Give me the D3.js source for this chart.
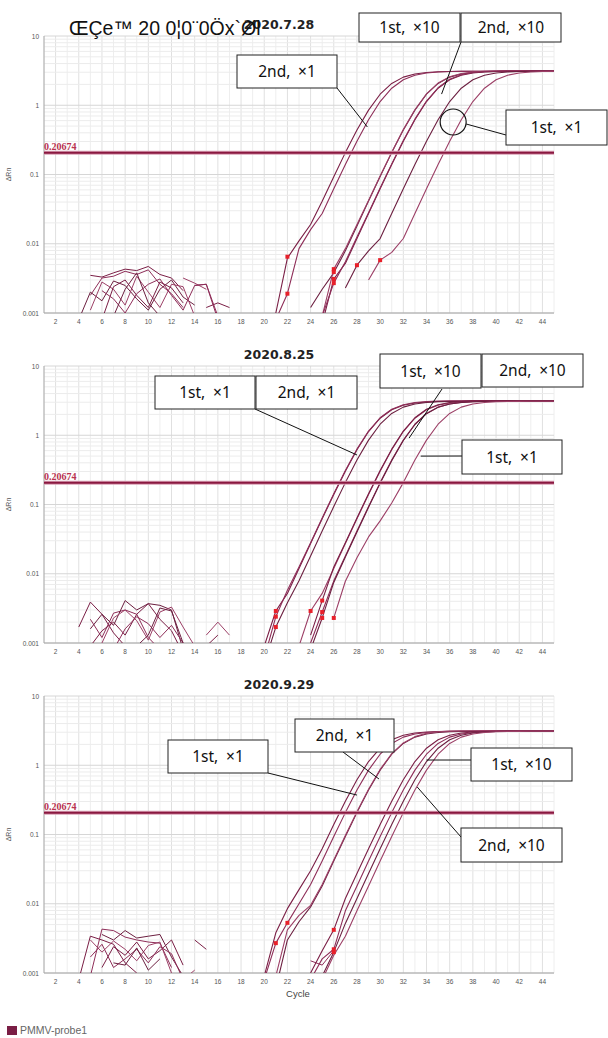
<!DOCTYPE html>
<html>
<head>
<meta charset="utf-8">
<script src="https://cdn.jsdelivr.net/npm/d3@7"></script>
<style>
  html, body { margin: 0; padding: 0; background: #fff; }
  svg { display: block; }
</style>
</head>
<body>
<div id="qpcr-plot"></div>
<script>
// ---- data ----
const panelTitles = ["2020.7.28", "2020.8.25", "2020.9.29"];
const threshold = 0.20674;
const xTicks = [2, 4, 6, 8, 10, 12, 14, 16, 18, 20, 22, 24, 26, 28, 30, 32, 34, 36, 38, 40, 42, 44];
const yTicks = [0.001, 0.01, 0.1, 1, 10];
const yTickLabels = ["0.001", "0.01", "0.1", "1", "10"];
const legendLabel = "PMMV-probe1";
const topOverlay = "ŒÇe™ 20 0¦0¨0Öx`Øl";

// run 1 (2020.7.28): first cycle of each curve, then delta Rn per cycle
const run1Starts = [21, 21, 24, 25, 25, 25, 27, 29];
const run1Curves = [
  [0.0010, 0.0062, 0.011, 0.019, 0.041, 0.093, 0.207, 0.438, 0.851, 1.443, 2.068, 2.547, 2.833, 2.978, 3.046, 3.076, 3.089, 3.095, 3.10, 3.10, 3.10, 3.10, 3.10, 3.10, 3.10],
  [0.0008, 0.0019, 0.0085, 0.016, 0.0273, 0.0622, 0.1396, 0.303, 0.619, 1.131, 1.764, 2.333, 2.712, 2.918, 3.018, 3.064, 3.084, 3.092, 3.10, 3.10, 3.10, 3.10, 3.10, 3.10, 3.10],
  [0.0012, 0.0022, 0.0038, 0.0079, 0.0181, 0.0413, 0.0934, 0.207, 0.438, 0.851, 1.443, 2.068, 2.547, 2.833, 2.978, 3.046, 3.076, 3.089, 3.095, 3.10, 3.10, 3.10],
  [0.0009, 0.0043, 0.0085, 0.019, 0.042, 0.095, 0.21, 0.445, 0.86, 1.46, 2.09, 2.58, 2.87, 3.02, 3.09, 3.12, 3.14, 3.15, 3.15, 3.16, 3.16],
  [0.0007, 0.0031, 0.0052, 0.0119, 0.0273, 0.0622, 0.1396, 0.303, 0.619, 1.131, 1.764, 2.333, 2.712, 2.918, 3.018, 3.064, 3.084, 3.092, 3.10, 3.10, 3.10],
  [0.0009, 0.0027, 0.0055, 0.0125, 0.028, 0.064, 0.142, 0.31, 0.63, 1.15, 1.79, 2.37, 2.76, 2.97, 3.07, 3.12, 3.14, 3.15, 3.16, 3.16, 3.16],
  [0.0023, 0.0049, 0.0079, 0.0119, 0.0273, 0.0622, 0.1396, 0.303, 0.619, 1.131, 1.764, 2.333, 2.712, 2.918, 3.018, 3.064, 3.084, 3.092, 3.10],
  [0.0030, 0.0058, 0.0075, 0.0119, 0.0273, 0.0622, 0.1396, 0.303, 0.619, 1.131, 1.764, 2.333, 2.712, 2.918, 3.018, 3.064, 3.084]
];
const run1NoiseStarts = [5, 5, 4, 5, 6, 6, 7, 13, 15, 14];
const run1Noise = [
  [0.0035, 0.0033, 0.0038, 0.0043, 0.0041, 0.0047, 0.0036, 0.0032, 0.0021],
  [0.0018, 0.0032, 0.0034, 0.0040, 0.0036, 0.0042, 0.0026, 0.0019, 0.0012],
  [0.0008, 0.0020, 0.0015, 0.0029, 0.0025, 0.0016, 0.0011, 0.0022, 0.0030, 0.0017, 0.0013],
  [0.0011, 0.0028, 0.0022, 0.0013, 0.0034, 0.0020, 0.0012, 0.0026, 0.0024, 0.0009],
  [0.0008, 0.0024, 0.0030, 0.0018, 0.0012, 0.0028, 0.0023, 0.0014],
  [0.0021, 0.0016, 0.0010, 0.0019, 0.0026, 0.0031, 0.0018, 0.0011, 0.0025, 0.0026, 0.0009],
  [0.0009, 0.0022, 0.0038, 0.0014, 0.0009],
  [0.0032, 0.0027, 0.0022],
  [0.0012, 0.0014, 0.0012],
  [0.0025, 0.0026, 0.0008]
];
const run1Markers = [[22, 0.0065], [22, 0.0019], [26, 0.0043], [26, 0.0039], [26, 0.0031], [26, 0.0027], [28, 0.0049], [30, 0.0058]];
const run1Notes = ["2nd, ×1", "1st, ×10", "2nd, ×10", "1st, ×1"];

// run 2 (2020.8.25)
const run2Starts = [20, 20, 20, 23, 24, 24, 24, 26];
const run2Curves = [
  [0.0009, 0.0029, 0.0052, 0.0119, 0.0273, 0.0622, 0.1396, 0.303, 0.619, 1.131, 1.764, 2.333, 2.712, 2.918, 3.018, 3.064, 3.084, 3.092, 3.10, 3.10, 3.10, 3.10, 3.10, 3.10, 3.10, 3.10],
  [0.0006, 0.0024, 0.0058, 0.0125, 0.028, 0.064, 0.143, 0.31, 0.63, 1.15, 1.79, 2.37, 2.76, 2.97, 3.07, 3.12, 3.14, 3.15, 3.16, 3.16, 3.16, 3.17, 3.17, 3.17, 3.17, 3.17],
  [0.0005, 0.0017, 0.0038, 0.0079, 0.0181, 0.0413, 0.0934, 0.207, 0.438, 0.851, 1.443, 2.068, 2.547, 2.833, 2.978, 3.046, 3.076, 3.089, 3.095, 3.10, 3.10, 3.10, 3.10, 3.10, 3.10, 3.10],
  [0.0009, 0.0029, 0.0052, 0.0119, 0.0273, 0.0622, 0.1396, 0.303, 0.619, 1.131, 1.764, 2.333, 2.712, 2.918, 3.018, 3.064, 3.084, 3.092, 3.10, 3.10, 3.10, 3.10, 3.10],
  [0.0013, 0.0041, 0.0125, 0.028, 0.064, 0.143, 0.31, 0.63, 1.15, 1.79, 2.37, 2.76, 2.97, 3.07, 3.12, 3.14, 3.15, 3.16, 3.16, 3.16, 3.16, 3.16],
  [0.0010, 0.0028, 0.0079, 0.0181, 0.0413, 0.0934, 0.207, 0.438, 0.851, 1.443, 2.068, 2.547, 2.833, 2.978, 3.046, 3.076, 3.089, 3.095, 3.10, 3.10, 3.10, 3.10],
  [0.0008, 0.0023, 0.0075, 0.0175, 0.040, 0.091, 0.203, 0.43, 0.84, 1.43, 2.05, 2.53, 2.82, 2.97, 3.04, 3.07, 3.09, 3.10, 3.10, 3.10, 3.10, 3.10],
  [0.0023, 0.0078, 0.017, 0.034, 0.058, 0.105, 0.207, 0.438, 0.851, 1.443, 2.068, 2.547, 2.833, 2.978, 3.046, 3.076, 3.089, 3.095, 3.10, 3.10]
];
const run2NoiseStarts = [4, 5, 5, 6, 5, 7, 9, 15, 15];
const run2Noise = [
  [0.0017, 0.0039, 0.0026, 0.0014, 0.0009],
  [0.0022, 0.0012, 0.0027, 0.0030, 0.0026, 0.0012, 0.0008],
  [0.0016, 0.0026, 0.0018, 0.0041, 0.0030, 0.0037, 0.0035, 0.0030, 0.0008],
  [0.0010, 0.0023, 0.0030, 0.0021, 0.0011, 0.0028, 0.0033, 0.0017, 0.0009],
  [0.0009, 0.0015, 0.0020, 0.0013, 0.0026, 0.0037, 0.0022, 0.0015, 0.0007],
  [0.0008, 0.0016, 0.0024, 0.0019, 0.0012, 0.0018, 0.0010],
  [0.0009, 0.0013, 0.0032, 0.0029, 0.0010],
  [0.0013, 0.0020, 0.0013],
  [0.0009, 0.0013]
];
const run2Markers = [[21, 0.0029], [21, 0.0024], [21, 0.0017], [24, 0.0029], [25, 0.0041], [25, 0.0028], [25, 0.0023], [26, 0.0023]];
const run2Notes = ["1st, ×1", "2nd, ×1", "1st, ×10", "2nd, ×10", "1st, ×1"];

// run 3 (2020.9.29)
const run3Starts = [20, 20, 21, 21, 24, 24, 25, 25];
const run3Curves = [
  [0.0009, 0.0038, 0.0085, 0.016, 0.030, 0.0622, 0.1396, 0.303, 0.619, 1.131, 1.764, 2.333, 2.712, 2.918, 3.018, 3.064, 3.084, 3.092, 3.10, 3.10, 3.10, 3.10, 3.10, 3.10, 3.10, 3.10],
  [0.0008, 0.0027, 0.0053, 0.010, 0.019, 0.0413, 0.0934, 0.207, 0.438, 0.851, 1.443, 2.068, 2.547, 2.833, 2.978, 3.046, 3.076, 3.089, 3.095, 3.13, 3.13, 3.13, 3.13, 3.13, 3.13, 3.13],
  [0.0006, 0.0030, 0.0055, 0.009, 0.0181, 0.0413, 0.0934, 0.207, 0.438, 0.851, 1.443, 2.068, 2.547, 2.833, 2.978, 3.046, 3.076, 3.089, 3.095, 3.10, 3.10, 3.10, 3.10, 3.10, 3.10],
  [0.0009, 0.0042, 0.0068, 0.0095, 0.019, 0.043, 0.097, 0.213, 0.45, 0.87, 1.47, 2.10, 2.59, 2.89, 3.04, 3.11, 3.14, 3.15, 3.16, 3.16, 3.16, 3.16, 3.16, 3.16, 3.16],
  [0.0010, 0.0021, 0.0042, 0.0119, 0.0273, 0.0622, 0.1396, 0.303, 0.619, 1.131, 1.764, 2.333, 2.712, 2.918, 3.018, 3.064, 3.084, 3.092, 3.10, 3.10, 3.10, 3.10],
  [0.0008, 0.0016, 0.0022, 0.0079, 0.0181, 0.0413, 0.0934, 0.207, 0.438, 0.851, 1.443, 2.068, 2.547, 2.833, 2.978, 3.046, 3.076, 3.089, 3.095, 3.10, 3.10, 3.10],
  [0.0009, 0.0020, 0.0052, 0.0119, 0.0273, 0.0622, 0.1396, 0.303, 0.619, 1.131, 1.764, 2.333, 2.712, 2.918, 3.018, 3.064, 3.084, 3.092, 3.10, 3.10, 3.10],
  [0.0008, 0.0018, 0.0034, 0.0079, 0.0181, 0.0413, 0.0934, 0.207, 0.438, 0.851, 1.443, 2.068, 2.547, 2.833, 2.978, 3.046, 3.076, 3.089, 3.095, 3.10, 3.10]
];
const run3NoiseStarts = [4, 5, 6, 5, 6, 5, 7, 13, 14, 24];
const run3Noise = [
  [0.0008, 0.0034, 0.0030, 0.0026, 0.0014, 0.0010],
  [0.0009, 0.0043, 0.0041, 0.0033, 0.0030, 0.0028, 0.0027, 0.0012],
  [0.0036, 0.0030, 0.0041, 0.0032, 0.0034, 0.0036, 0.0017, 0.0009],
  [0.0030, 0.0020, 0.0029, 0.0022, 0.0015, 0.0025, 0.0028, 0.0010],
  [0.0012, 0.0024, 0.0018, 0.0028, 0.0016, 0.0021, 0.0030, 0.0013],
  [0.0017, 0.0026, 0.0012, 0.0016, 0.0022, 0.0014, 0.0024, 0.0019, 0.0008],
  [0.0014, 0.0013, 0.0023, 0.0011, 0.0016],
  [0.0008, 0.0011],
  [0.0030, 0.0022],
  [0.0015, 0.0013, 0.0021]
];
const run3Markers = [[21, 0.0027], [22, 0.0053], [26, 0.0042], [26, 0.0022], [26, 0.0020]];
const run3Notes = ["1st, ×1", "2nd, ×1", "1st, ×10", "2nd, ×10"];

// ---- layout ----
const W = 608, H = 1038;
const plotLeft = 44, plotWidth = 510, plotHeight = 277;
const panelTops = [36, 366, 696];
const lineColors = ['#7a1e45', '#8e2d58', '#6c1f40', '#9c3f66'];

// callout boxes [x, y, w, h] and leaders [fromX, fromY, cycle, dRn]
const noteBoxes = [
  [[237, 55, 100, 33], [359, 13, 101, 29], [461, 13, 100, 29], [506, 110, 101, 35]],
  [[155, 376, 100, 33], [256, 376, 101, 33], [380, 354, 101, 34], [482, 354, 101, 33], [462, 440, 100, 34]],
  [[168, 740, 100, 33], [295, 719, 99, 33], [471, 748, 101, 33], [461, 828, 101, 34]]
];
const noteLeaders = [
  [[337, 88, 28.9, 0.485], [461, 42, 35.3, 1.45]],
  [[255, 409, 28.0, 0.519], [442, 389, 32.5, 0.912], [462, 456, 33.5, 0.50]],
  [[268, 773, 28.0, 0.371], [343, 752, 29.9, 0.633], [471, 760, 34.0, 1.19], [461, 837, 33.2, 0.485]]
];

const runs = [
  { starts: run1Starts, curves: run1Curves, noiseStarts: run1NoiseStarts, noise: run1Noise, markers: run1Markers, notes: run1Notes },
  { starts: run2Starts, curves: run2Curves, noiseStarts: run2NoiseStarts, noise: run2Noise, markers: run2Markers, notes: run2Notes },
  { starts: run3Starts, curves: run3Curves, noiseStarts: run3NoiseStarts, noise: run3Noise, markers: run3Markers, notes: run3Notes }
];

const svg = d3.select('#qpcr-plot').append('svg')
  .attr('width', W)
  .attr('height', H)
  .style('font-family', '"Liberation Sans", Arial, sans-serif');

svg.append('defs').append('clipPath')
  .attr('id', 'plot-clip')
  .append('rect')
  .attr('width', plotWidth)
  .attr('height', plotHeight);

const x = d3.scaleLinear().domain([1, 45]).range([0, plotWidth]);
const y = d3.scaleLog().domain([0.001, 10]).range([plotHeight, 0]);

const line = d3.line()
  .x(d => x(d[0]))
  .y(d => y(Math.max(d[1], 1e-5)));

const toPoints = (start, values) => values.map((v, i) => [start + i, v]);

// log minor grid values
const minorY = [];
[0.001, 0.01, 0.1, 1].forEach(dec => { for (let k = 1; k < 10; k++) minorY.push(dec * k); });
minorY.push(10);

runs.forEach((run, p) => {
  const top = panelTops[p];
  const chart = svg.append('g').attr('transform', `translate(${plotLeft},${top})`);

  // grid
  const grid = chart.append('g');
  d3.range(1, 46).forEach(c => {
    grid.append('line')
      .attr('x1', x(c)).attr('x2', x(c))
      .attr('y1', 0).attr('y2', plotHeight)
      .attr('stroke', c % 2 === 0 ? '#e0e0e0' : '#eeeeee')
      .attr('stroke-width', 1);
  });
  minorY.forEach(v => {
    const major = yTicks.includes(v);
    grid.append('line')
      .attr('x1', 0).attr('x2', plotWidth)
      .attr('y1', y(v)).attr('y2', y(v))
      .attr('stroke', major ? '#d6d6d6' : '#ececec')
      .attr('stroke-width', 1);
  });

  // axes
  chart.append('line')
    .attr('x1', 0).attr('x2', 0).attr('y1', 0).attr('y2', plotHeight)
    .attr('stroke', '#a8a8a8');
  chart.append('line')
    .attr('x1', 0).attr('x2', plotWidth).attr('y1', plotHeight).attr('y2', plotHeight)
    .attr('stroke', '#a8a8a8');

  chart.selectAll('.ytick')
    .data(yTicks)
    .enter().append('text')
    .attr('x', -5)
    .attr('y', d => y(d) + 2.5)
    .attr('text-anchor', 'end')
    .attr('font-size', 6.5)
    .attr('fill', '#555')
    .text((d, i) => yTickLabels[i]);

  chart.selectAll('.xtick')
    .data(xTicks)
    .enter().append('text')
    .attr('x', d => x(d))
    .attr('y', plotHeight + 11)
    .attr('text-anchor', 'middle')
    .attr('font-size', 6.5)
    .attr('fill', '#555')
    .text(d => d);

  chart.append('text')
    .attr('transform', `translate(-33,${y(0.1)}) rotate(-90)`)
    .attr('text-anchor', 'middle')
    .attr('font-size', 7)
    .attr('fill', '#555')
    .text('ΔRn');

  // traces
  const traces = chart.append('g').attr('clip-path', 'url(#plot-clip)');

  run.noise.forEach((vals, i) => {
    traces.append('path')
      .datum(toPoints(run.noiseStarts[i], vals))
      .attr('fill', 'none')
      .attr('stroke', lineColors[i % lineColors.length])
      .attr('stroke-width', 1)
      .attr('stroke-linejoin', 'round')
      .attr('d', line);
  });

  run.curves.forEach((vals, i) => {
    traces.append('path')
      .datum(toPoints(run.starts[i], vals))
      .attr('fill', 'none')
      .attr('stroke', lineColors[i % lineColors.length])
      .attr('stroke-width', 1.1)
      .attr('stroke-linejoin', 'round')
      .attr('d', line);
  });

  // threshold
  traces.append('line')
    .attr('x1', 0).attr('x2', plotWidth)
    .attr('y1', y(threshold)).attr('y2', y(threshold))
    .attr('stroke', '#d9a0b4')
    .attr('stroke-width', 4);
  traces.append('line')
    .attr('x1', 0).attr('x2', plotWidth)
    .attr('y1', y(threshold)).attr('y2', y(threshold))
    .attr('stroke', '#8a1840')
    .attr('stroke-width', 2);
  chart.append('text')
    .attr('x', 0)
    .attr('y', y(threshold) - 2.5)
    .attr('font-family', '"Liberation Serif", "Times New Roman", serif')
    .attr('font-weight', 'bold')
    .attr('font-size', 10)
    .attr('fill', '#b8324f')
    .text(threshold);

  // Ct markers
  traces.selectAll('.ct')
    .data(run.markers)
    .enter().append('rect')
    .attr('x', d => x(d[0]) - 2)
    .attr('y', d => y(d[1]) - 2)
    .attr('width', 4)
    .attr('height', 4)
    .attr('fill', '#e8202a');

  // title
  svg.append('text')
    .attr('x', 279)
    .attr('y', top - 7)
    .attr('text-anchor', 'middle')
    .attr('font-family', '"DejaVu Sans", sans-serif')
    .attr('font-weight', 'bold')
    .attr('font-size', 12.5)
    .attr('fill', '#222')
    .text(panelTitles[p]);

  // callouts
  const notes = svg.append('g');
  noteLeaders[p].forEach(l => {
    notes.append('line')
      .attr('x1', l[0]).attr('y1', l[1])
      .attr('x2', plotLeft + x(l[2])).attr('y2', top + y(l[3]))
      .attr('stroke', '#111')
      .attr('stroke-width', 1);
  });
  if (p === 0) {
    const cx = plotLeft + x(36.3), cy = top + y(0.573);
    notes.append('circle')
      .attr('cx', cx).attr('cy', cy).attr('r', 13)
      .attr('fill', 'none')
      .attr('stroke', '#111')
      .attr('stroke-width', 1.2);
    notes.append('line')
      .attr('x1', cx + 13).attr('y1', cy + 2)
      .attr('x2', 506).attr('y2', 135)
      .attr('stroke', '#111');
  }
  run.notes.forEach((label, i) => {
    const b = noteBoxes[p][i];
    notes.append('rect')
      .attr('x', b[0]).attr('y', b[1])
      .attr('width', b[2]).attr('height', b[3])
      .attr('fill', '#fff')
      .attr('stroke', '#222')
      .attr('stroke-width', 1);
    notes.append('text')
      .attr('x', b[0] + b[2] / 2)
      .attr('y', b[1] + b[3] / 2 + 5.5)
      .attr('text-anchor', 'middle')
      .attr('font-family', '"Noto Sans", "Open Sans", sans-serif')
      .attr('font-size', 15.5)
      .attr('fill', '#111')
      .text(label.replace(', ', ',\u2002'));
  });
});

// x axis title (bottom panel only)
svg.append('text')
  .attr('x', 298)
  .attr('y', 997)
  .attr('text-anchor', 'middle')
  .attr('font-size', 9.5)
  .attr('fill', '#444')
  .text('Cycle');

// legend
svg.append('rect')
  .attr('x', 7).attr('y', 1026)
  .attr('width', 10).attr('height', 9)
  .attr('fill', lineColors[0]);
svg.append('text')
  .attr('x', 20)
  .attr('y', 1034)
  .attr('font-size', 10.5)
  .attr('fill', '#666')
  .text(legendLabel);

// stray encoded caption over the first title
svg.append('text')
  .attr('x', 69)
  .attr('y', 35)
  .attr('font-size', 19.5)
  .attr('fill', '#111')
  .text(topOverlay);
</script>
</body>
</html>
